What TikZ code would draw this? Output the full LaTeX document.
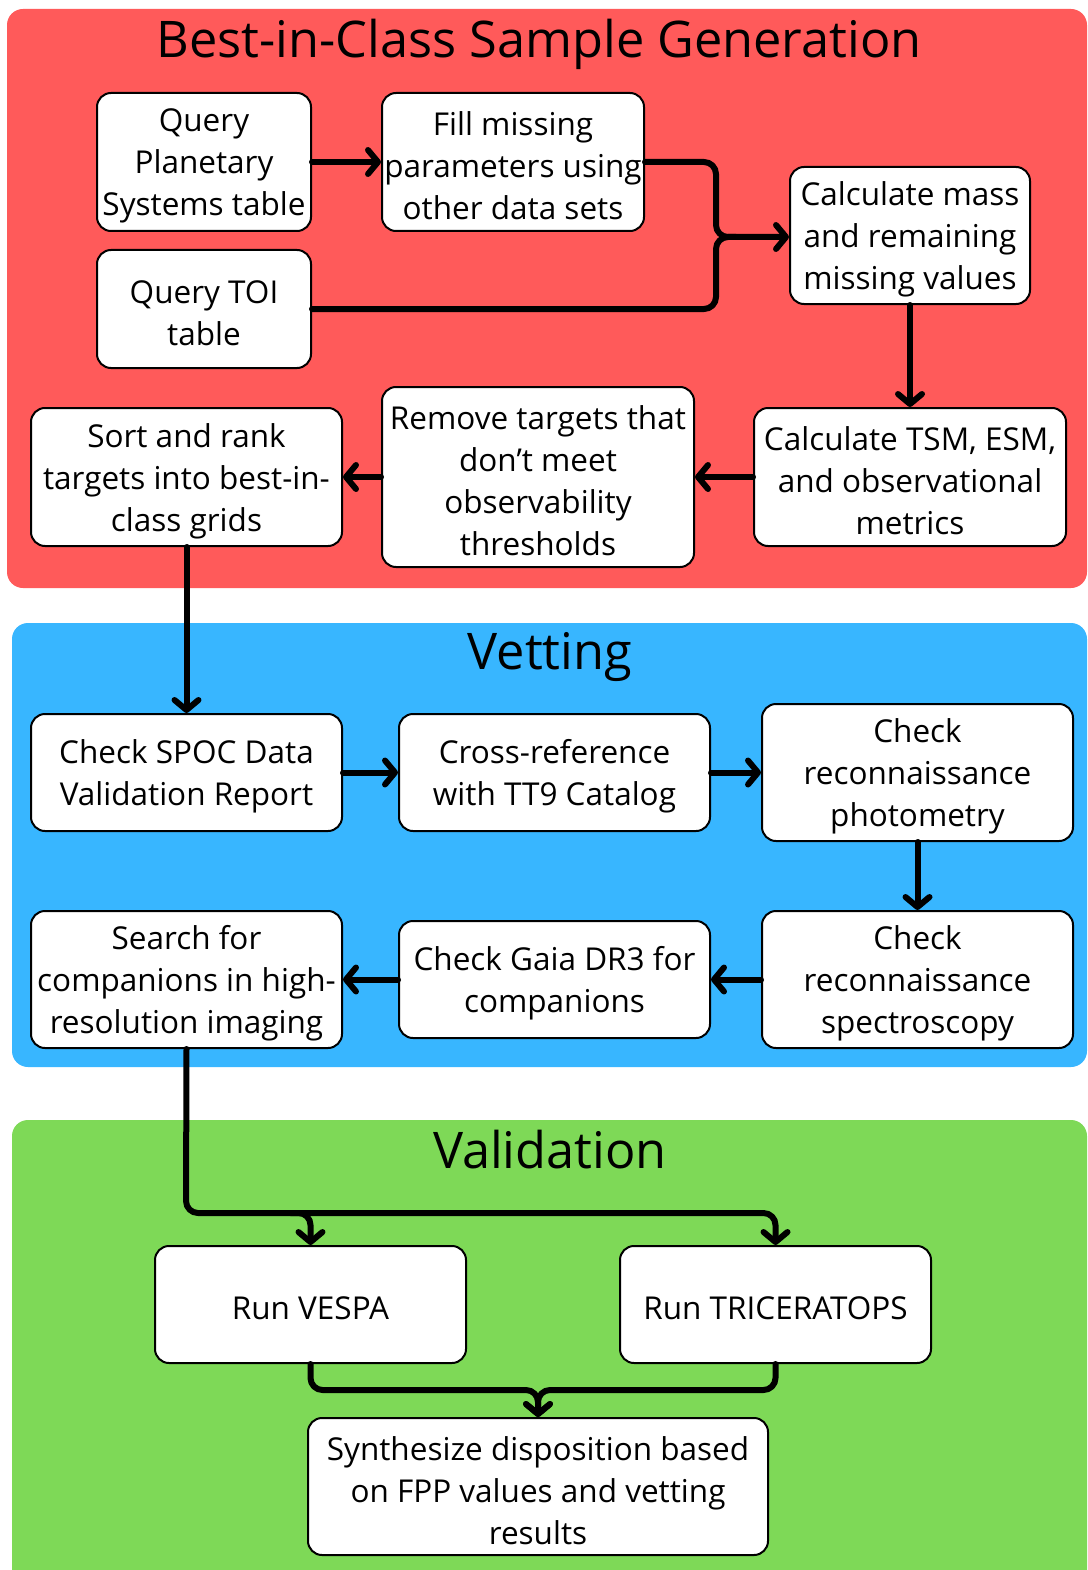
\documentclass[tikz,border=0pt]{standalone}
\usepackage{fontspec}
\setmainfont{Open Sans}
\usetikzlibrary{arrows.meta,calc}
\definecolor{secred}{HTML}{FF5A5A}
\definecolor{secblue}{HTML}{38B6FF}
\definecolor{secgreen}{HTML}{7ED957}
\tikzset{
  stepbox/.style={draw=black, line width=2pt, rounded corners=14pt, fill=white, inner sep=0pt},
  steptext/.style={align=center, inner sep=0pt, yshift=-4pt, font=\fontsize{31.5}{42}\selectfont},
  conn/.style={line width=6pt, line cap=round, line join=round, rounded corners=12pt,
    -{Straight Barb[length=10pt,width=24pt,round]}},
  plain/.style={line width=6pt, line cap=round, line join=round, rounded corners=12pt},
  sectitle/.style={font=\fontsize{50.5}{58}\selectfont, inner sep=0pt}
}
\begin{document}
\begin{tikzpicture}[x=1pt,y=-1pt]
\useasboundingbox (0,0) rectangle (1087,1570);
\fill[white] (0,0) rectangle (1087,1570);
% sections
\fill[secred, rounded corners=16pt] (7,9) rectangle (1087,588);
\fill[secblue, rounded corners=16pt] (12,623) rectangle (1087,1067);
\fill[secgreen, rounded corners=16pt] (12,1120) rectangle (1087,1600);
\node[sectitle] (t1) at (539,44) {Best-in-Class Sample Generation};
\node[sectitle] (t2) at (550,657) {Vetting};
\node[sectitle] (t3) at (550,1150) {Validation};
% boxes
\node[stepbox, minimum width=214pt, minimum height=138pt, label={[steptext]center:{Query\\Planetary\\Systems table}}] (b1) at (204,162) {};
\node[stepbox, minimum width=262pt, minimum height=138pt, label={[steptext]center:{Fill missing\\parameters using\\other data sets}}] (b2) at (513,162) {};
\node[stepbox, minimum width=214pt, minimum height=118pt, label={[steptext]center:{Query TOI\\table}}] (b3) at (204,309) {};
\node[stepbox, minimum width=240pt, minimum height=137pt, label={[steptext]center:{Calculate mass\\and remaining\\missing values}}] (b4) at (910,235.5) {};
\node[stepbox, minimum width=312pt, minimum height=138pt, label={[steptext]center:{Calculate TSM, ESM,\\and observational\\metrics}}] (b5) at (910,477) {};
\node[stepbox, minimum width=312pt, minimum height=180pt, label={[steptext]center:{Remove targets that\\don't meet\\observability\\thresholds}}] (b6) at (538,477) {};
\node[stepbox, minimum width=311pt, minimum height=138pt, label={[steptext]center:{Sort and rank\\targets into best-in-\\class grids}}] (b7) at (186.5,477) {};
\node[stepbox, minimum width=311pt, minimum height=117pt, label={[steptext]center:{Check SPOC Data\\Validation Report}}] (b8) at (186.5,772.5) {};
\node[stepbox, minimum width=311pt, minimum height=117pt, label={[steptext]center:{Cross-reference\\with TT9 Catalog}}] (b9) at (554.5,772.5) {};
\node[stepbox, minimum width=311pt, minimum height=137pt, label={[steptext]center:{Check\\reconnaissance\\photometry}}] (b10) at (917.5,772.5) {};
\node[stepbox, minimum width=311pt, minimum height=137pt, label={[steptext]center:{Check\\reconnaissance\\spectroscopy}}] (b11) at (917.5,979.5) {};
\node[stepbox, minimum width=311pt, minimum height=117pt, label={[steptext]center:{Check Gaia DR3 for\\companions}}] (b12) at (554.5,979.5) {};
\node[stepbox, minimum width=311pt, minimum height=137pt, label={[steptext]center:{Search for\\companions in high-\\resolution imaging}}] (b13) at (186.5,979.5) {};
\node[stepbox, minimum width=311pt, minimum height=117pt, label={[steptext]center:{Run VESPA}}] (b14) at (310.5,1304.5) {};
\node[stepbox, minimum width=311pt, minimum height=117pt, label={[steptext]center:{Run TRICERATOPS}}] (b15) at (775.5,1304.5) {};
\node[stepbox, minimum width=460pt, minimum height=137pt, label={[steptext]center:{Synthesize disposition based\\on FPP values and vetting\\results}}] (b16) at (538,1486.5) {};
% connectors
\coordinate (j1) at (716,237);
\coordinate (j2) at (186,1213);
\coordinate (j3) at (538,1390);
\draw[conn] (b1.east) -- (b2.west);
\draw[conn] (b2.east) -- (j1 |- b2.east) -- (j1) -- (b4.west |- j1);
\draw[plain] (b3.east) -- (j1 |- b3.east) -- (j1) -- ($(j1)+(20,0)$);
\draw[conn] (b4.south) -- (b5.north);
\draw[conn] (b5.west) -- (b6.east);
\draw[conn] (b6.west) -- (b7.east);
\draw[conn] (b7.south) -- (b8.north);
\draw[conn] (b8.east) -- (b9.west);
\draw[conn] (b9.east) -- (b10.west);
\draw[conn] (b10.south) -- (b11.north);
\draw[conn] (b11.west) -- (b12.east);
\draw[conn] (b12.west) -- (b13.east);
\draw[conn] (b13.south) -- (j2) -- (b14.north |- j2) -- (b14.north);
\draw[conn] ($(b14.north |- j2)+(-20,0)$) -- (b15.north |- j2) -- (b15.north);
\draw[conn] (b14.south) -- (b14.south |- j3) -- (j3) -- (b16.north);
\draw[conn] (b15.south) -- (b15.south |- j3) -- (j3) -- (b16.north);
\end{tikzpicture}
\end{document}
